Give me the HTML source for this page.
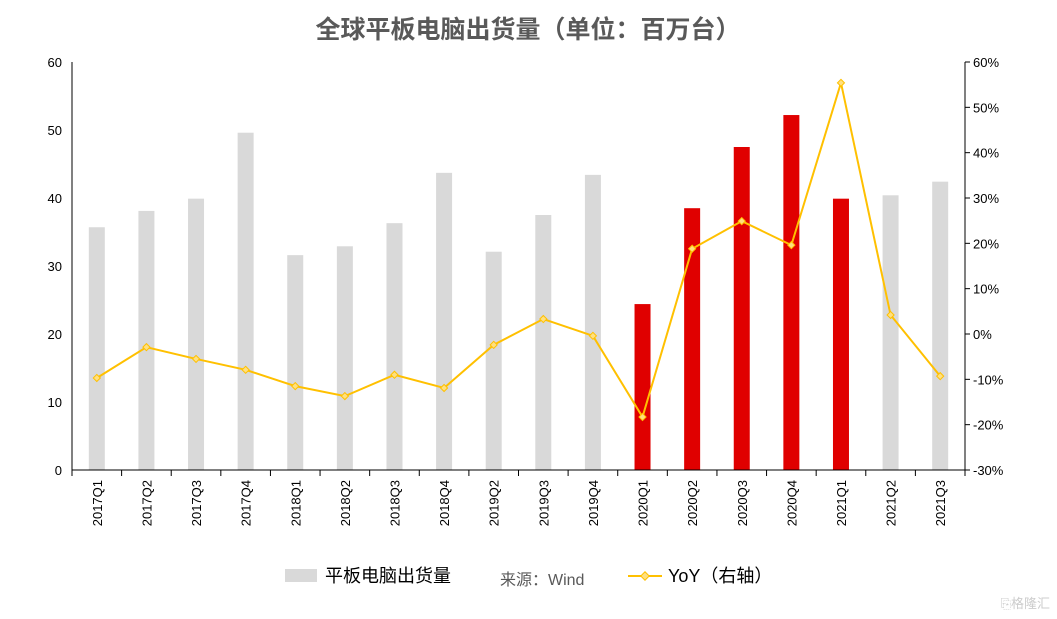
<!DOCTYPE html>
<html><head><meta charset="utf-8"><style>
body{margin:0;background:#fff;}
svg{display:block;font-family:"Liberation Sans","Noto Sans CJK SC",sans-serif;}
</style></head><body>
<svg id="c" width="1057" height="619">
<text x="528" y="38" text-anchor="middle" font-size="25" font-weight="bold" fill="#595959">全球平板电脑出货量（单位：百万台）</text>
<g id="plot"></g>
<g>
<rect x="285" y="569" width="32" height="13" fill="#d9d9d9"/>
<text x="325" y="582" font-size="18" fill="#000">平板电脑出货量</text>
<text x="500" y="585" font-size="16" fill="#595959">来源：Wind</text>
<line x1="628" y1="576" x2="662" y2="576" stroke="#ffc000" stroke-width="2"/>
<rect x="642" y="573" width="6" height="6" fill="#ffe080" stroke="#ffc000" transform="rotate(45 645 576)"/>
<text x="668" y="582" font-size="18" fill="#000">YoY（右轴）</text>
</g>
<text x="1050" y="608" text-anchor="end" font-size="13" fill="#ccc">⎘格隆汇</text>
</svg>
<script>
const categories=["2017Q1","2017Q2","2017Q3","2017Q4","2018Q1","2018Q2","2018Q3","2018Q4","2019Q2","2019Q3","2019Q4","2020Q1","2020Q2","2020Q3","2020Q4","2021Q1","2021Q2","2021Q3"];
const shipments=[35.7,38.1,39.9,49.6,31.6,32.9,36.3,43.7,32.1,37.5,43.4,24.4,38.5,47.5,52.2,39.9,40.4,42.4];
const highlighted=[0,0,0,0,0,0,0,0,0,0,0,1,1,1,1,1,0,0];
const yoy=[-9.7,-2.9,-5.5,-7.9,-11.5,-13.7,-9.0,-11.9,-2.4,3.3,-0.4,-18.3,18.8,24.9,19.6,55.4,4.2,-9.3];
const leftTicks=[0,10,20,30,40,50,60];
const rightTicks=[-30,-20,-10,0,10,20,30,40,50,60];
const NS="http://www.w3.org/2000/svg";
const X0=72,X1=965,YB=470,YT=62;
const step=(X1-X0)/categories.length;
const xc=i=>X0+step*(i+0.5);
const yL=v=>YB-(v/60)*(YB-YT);
const yR=v=>YB-((v+30)/90)*(YB-YT);
const g=document.getElementById('plot');
function mk(t,a){const e=document.createElementNS(NS,t);for(const k in a)e.setAttribute(k,a[k]);g.appendChild(e);return e;}
shipments.forEach((v,i)=>{
 const r=mk('rect',{x:xc(i)-8,y:yL(v),width:16,height:YB-yL(v),fill:highlighted[i]?'#e00000':'#d9d9d9'});
 
 
});
let ax=mk('line',{x1:X0,y1:YT,x2:X0,y2:YB,stroke:'#000'});


let ax2=mk('line',{x1:X1,y1:YT,x2:X1,y2:YB,stroke:'#000'});


let ax3=mk('line',{x1:X0,y1:YB,x2:X1,y2:YB,stroke:'#000'});


leftTicks.forEach(v=>{
 const t=mk('text',{x:X0-10,y:yL(v)+5,'text-anchor':'end','font-size':13,fill:'#000'});t.textContent=v;
 
 
});
rightTicks.forEach(v=>{
 mk('line',{x1:X1,y1:yR(v),x2:X1+5,y2:yR(v),stroke:'#000'});
 const t=mk('text',{x:X1+8,y:yR(v)+5,'font-size':13,fill:'#000'});t.textContent=v+'%';
 
 
});
for(let i=0;i<=categories.length;i++)mk('line',{x1:X0+step*i,y1:YB,x2:X0+step*i,y2:YB+6,stroke:'#000'});
categories.forEach((c,i)=>{
 const t=mk('text',{x:0,y:0,'text-anchor':'end','font-size':13,fill:'#000',transform:`translate(${xc(i)+5},${YB+10}) rotate(-90)`});t.textContent=c;
 
 
});
const pl=mk('polyline',{points:yoy.map((v,i)=>xc(i)+','+yR(v)).join(' '),fill:'none',stroke:'#ffc000','stroke-width':2});


yoy.forEach((v,i)=>{
 const m=mk('rect',{x:xc(i)-2.5,y:yR(v)-2.5,width:5,height:5,fill:'#ffe080',stroke:'#ffc000','stroke-width':1,transform:`rotate(45 ${xc(i)} ${yR(v)})`});
 
 
});
</script>
</body></html>
